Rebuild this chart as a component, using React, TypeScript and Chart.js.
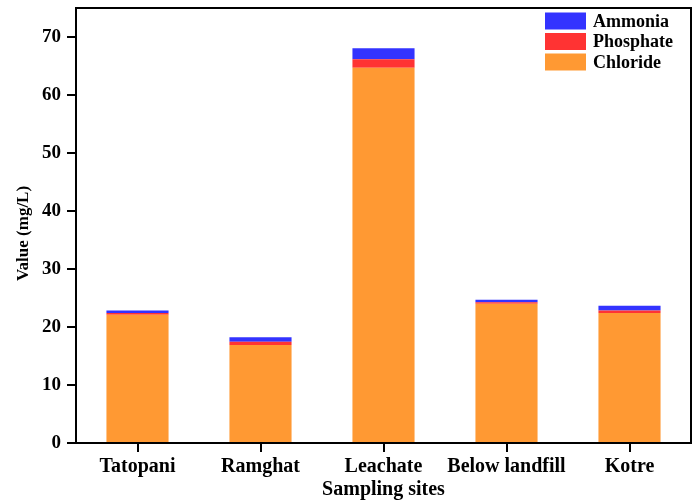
import React, { useEffect, useRef } from "react";
import { Chart, registerables } from "chart.js";

Chart.register(...registerables);

const categories = ["Tatopani", "Ramghat", "Leachate", "Below landfill", "Kotre"];
const chloride = [22.1, 16.9, 64.7, 24.0, 22.4];
const phosphate = [0.3, 0.55, 1.45, 0.25, 0.45];
const ammonia = [0.45, 0.8, 1.9, 0.45, 0.8];
const yTicks = [0, 10, 20, 30, 40, 50, 60, 70];
const yTitle = "Value (mg/L)";
const xTitle = "Sampling sites";

const SERIF = "'Times New Roman', 'Liberation Serif', serif";
const COLORS = {
  chloride: "rgb(255,153,51)",
  phosphate: "rgb(255,51,51)",
  ammonia: "rgb(51,51,255)",
};

const framePlugin = {
  id: "frame",
  afterDraw(chart: any) {
    const { ctx, chartArea } = chart;
    ctx.save();
    ctx.strokeStyle = "#000";
    ctx.lineWidth = 2;
    ctx.strokeRect(chartArea.left, chartArea.top, chartArea.right - chartArea.left, chartArea.bottom - chartArea.top);
    // y-axis title
    ctx.save();
    ctx.translate(24, (chartArea.top + chartArea.bottom) / 2 + 8);
    ctx.rotate(-Math.PI / 2);
    ctx.font = `bold 17px ${SERIF}`;
    ctx.fillStyle = "#000";
    ctx.textAlign = "center";
    ctx.textBaseline = "middle";
    ctx.fillText(yTitle, 0, 0);
    ctx.restore();
    // legend (inside plot, top-right), order reversed from stacking
    const items = [...chart.data.datasets].reverse();
    const boxW = 41;
    const boxH = 17;
    const step = 20.5;
    const x0 = chartArea.right - 146;
    const y0 = chartArea.top + 4.5;
    ctx.font = `bold 18px ${SERIF}`;
    ctx.textBaseline = "middle";
    ctx.textAlign = "left";
    items.forEach((ds: any, i: number) => {
      const y = y0 + i * step;
      ctx.fillStyle = ds.backgroundColor;
      ctx.fillRect(x0, y, boxW, boxH);
      ctx.fillStyle = "#000";
      ctx.fillText(ds.label, x0 + boxW + 7, y + boxH / 2 + 1);
    });
    ctx.restore();
  },
};

export default function App() {
  const ref = useRef<HTMLCanvasElement | null>(null);
  useEffect(() => {
    document.body.style.margin = "0";
    const canvas = ref.current!;
    const chart = new Chart(canvas, {
      type: "bar",
      data: {
        labels: categories,
        datasets: [
          { label: "Chloride", data: chloride, backgroundColor: COLORS.chloride },
          { label: "Phosphate", data: phosphate, backgroundColor: COLORS.phosphate },
          { label: "Ammonia", data: ammonia, backgroundColor: COLORS.ammonia },
        ],
      },
      options: {
        animation: false,
        responsive: false,
        maintainAspectRatio: false,
        layout: { padding: { top: 8, right: 6, left: 0, bottom: 0 } },
        datasets: { bar: { categoryPercentage: 1, barPercentage: 0.505 } },
        plugins: {
          legend: { display: false },
          tooltip: { enabled: false },
        },
        scales: {
          x: {
            stacked: true,
            grid: {
              offset: false,
              drawOnChartArea: false,
              drawTicks: true,
              tickLength: 9,
              color: "#000",
              lineWidth: 2,
            },
            border: { display: true, color: "#000", width: 2 },
            ticks: {
              color: "#000",
              padding: 3,
              maxRotation: 0,
              autoSkip: false,
              font: { family: SERIF, size: 20, weight: "bold" },
            },
            title: {
              display: true,
              text: xTitle,
              color: "#000",
              padding: { top: 0, bottom: 0 },
              font: { family: SERIF, size: 20, weight: "bold" },
            },
            afterFit(scale: any) {
              scale.height = 59;
              scale.paddingLeft = 0;
              scale.paddingRight = 0;
            },
          },
          y: {
            stacked: true,
            min: 0,
            max: 75,
            grid: {
              drawOnChartArea: false,
              drawTicks: true,
              tickLength: 9,
              color: "#000",
              lineWidth: 2,
            },
            border: { display: true, color: "#000", width: 2 },
            ticks: {
              stepSize: 10,
              color: "#000",
              padding: 6,
              font: { family: SERIF, size: 19, weight: "bold" },
            },
            afterBuildTicks(scale: any) {
              scale.ticks = yTicks.map((v) => ({ value: v }));
            },
            title: { display: false },
            afterFit(scale: any) {
              scale.width = 76;
              scale.paddingTop = 0;
              scale.paddingBottom = 0;
            },
          },
        },
      },
      plugins: [framePlugin],
    } as any);
    return () => chart.destroy();
  }, []);
  return (
    <div style={{ position: "absolute", left: 0, top: 0, width: 697, height: 502 }}>
      <canvas ref={ref} width={697} height={502} style={{ width: 697, height: 502 }} />
    </div>
  );
}
